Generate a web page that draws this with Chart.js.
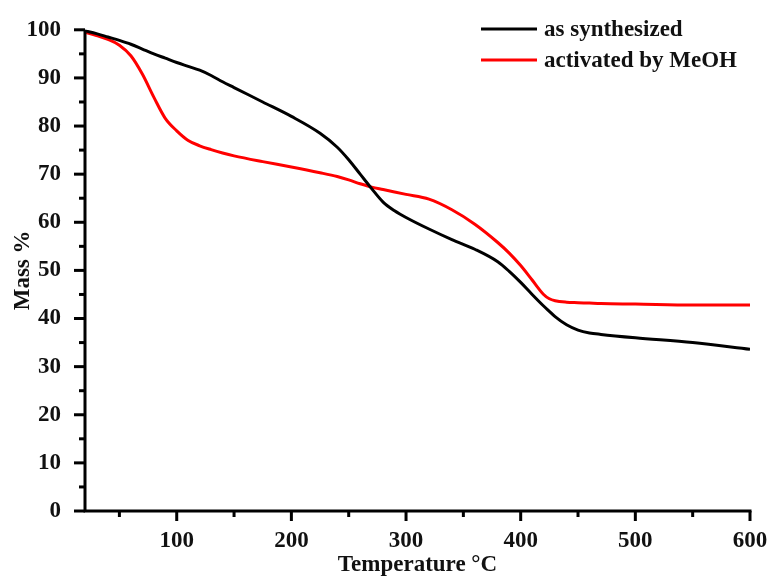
<!DOCTYPE html>
<html>
<head>
<meta charset="utf-8">
<script src="https://cdn.jsdelivr.net/npm/chart.js@4.4.1/dist/chart.umd.min.js"></script>
<style>
  html, body { margin: 0; padding: 0; background: #fff; }
  #wrap { width: 772px; height: 583px; }
</style>
</head>
<body>
<div id="wrap"><canvas id="tgaChart" width="772" height="583"></canvas></div>
<script>
// TGA curves: temperature (°C) vs remaining mass (%)
const temps = [20, 30, 40, 50, 60, 70, 80, 90, 100, 110, 120, 130, 140, 150, 175, 200, 225, 240, 250, 260,
    270, 280, 290, 300, 320, 340, 360, 380, 390, 400, 410, 420, 425, 430, 440, 450, 460, 470, 500, 550, 600];
const asSynthesized = [99.8, 99.2, 98.5, 97.8, 97.0, 96.0, 95.0, 94.1, 93.2, 92.4, 91.6, 90.5, 89.2, 88.0, 85.0, 82.0, 78.5, 75.6, 73.0, 70.0,
    67.0, 64.2, 62.4, 61.0, 58.6, 56.4, 54.4, 51.8, 49.8, 47.5, 45.0, 42.6, 41.5, 40.4, 38.7, 37.6, 37.0, 36.7, 36.0, 35.0, 33.6];
const activatedMeOH = [99.5, 98.8, 98.0, 96.8, 94.6, 90.8, 86.0, 81.6, 79.0, 77.0, 75.9, 75.1, 74.4, 73.8, 72.6, 71.5, 70.3, 69.5, 68.8, 68.0,
    67.3, 66.8, 66.3, 65.8, 64.8, 62.6, 59.6, 55.8, 53.6, 51.0, 48.0, 45.0, 44.1, 43.7, 43.4, 43.3, 43.2, 43.1, 43.0, 42.8, 42.8];

const seriesLabels = ['as synthesized', 'activated by MeOH'];
const seriesColors = ['#000000', '#ff0000'];

const xMajor = [100, 200, 300, 400, 500, 600];
const xMinor = [50, 150, 250, 350, 450, 550];
const yMajor = [0, 10, 20, 30, 40, 50, 60, 70, 80, 90, 100];
const yMinor = [5, 15, 25, 35, 45, 55, 65, 75, 85, 95];

const FONT = 'Liberation Serif, Times New Roman, serif';

// axis lines, major/minor tick marks and the legend in the top right corner
const framePlugin = {
    id: 'frame',
    afterDraw(chart) {
        const ctx = chart.ctx;
        const area = chart.chartArea;
        const xs = chart.scales.x;
        const ys = chart.scales.y;
        ctx.save();
        ctx.strokeStyle = '#000';
        ctx.lineWidth = 3;
        ctx.lineCap = 'butt';

        ctx.beginPath();
        ctx.moveTo(area.left, area.top);
        ctx.lineTo(area.left, area.bottom);
        ctx.lineTo(area.right + 1.5, area.bottom);
        ctx.stroke();

        const tick = (x1, y1, x2, y2) => {
            ctx.beginPath();
            ctx.moveTo(x1, y1);
            ctx.lineTo(x2, y2);
            ctx.stroke();
        };
        xMajor.forEach(v => { const px = xs.getPixelForValue(v); tick(px, area.bottom, px, area.bottom + 10); });
        xMinor.forEach(v => { const px = xs.getPixelForValue(v); tick(px, area.bottom, px, area.bottom + 6); });
        yMajor.forEach(v => { const py = ys.getPixelForValue(v); tick(area.left, py, area.left - 11, py); });
        yMinor.forEach(v => { const py = ys.getPixelForValue(v); tick(area.left, py, area.left - 6, py); });

        // legend
        ctx.font = 'bold 23px ' + FONT;
        ctx.textBaseline = 'middle';
        ctx.textAlign = 'left';
        chart.data.datasets.forEach((ds, i) => {
            const y = 29 + i * 31;
            ctx.strokeStyle = ds.borderColor;
            ctx.lineWidth = 3;
            tick(481, y, 537, y);
            ctx.fillStyle = '#111';
            ctx.fillText(ds.label, 544, y + 1);
        });
        ctx.restore();
    }
};

const ctx = document.getElementById('tgaChart').getContext('2d');
new Chart(ctx, {
    type: 'line',
    data: {
        datasets: [
            {
                label: seriesLabels[0],
                data: temps.map((t, i) => ({ x: t, y: asSynthesized[i] })),
                borderColor: seriesColors[0],
                borderWidth: 3,
                pointRadius: 0,
                cubicInterpolationMode: 'monotone',
                fill: false
            },
            {
                label: seriesLabels[1],
                data: temps.map((t, i) => ({ x: t, y: activatedMeOH[i] })),
                borderColor: seriesColors[1],
                borderWidth: 3,
                pointRadius: 0,
                cubicInterpolationMode: 'monotone',
                fill: false
            }
        ]
    },
    options: {
        responsive: false,
        animation: false,
        layout: { padding: { top: 24, right: 22, left: 0, bottom: 0 } },
        plugins: {
            legend: { display: false },
            tooltip: { enabled: false }
        },
        scales: {
            x: {
                type: 'linear',
                min: 20,
                max: 600,
                grid: { display: false },
                border: { display: false },
                afterBuildTicks(scale) { scale.ticks = xMajor.map(v => ({ value: v })); },
                afterFit(scale) {
                    scale.height = 72;
                    scale.paddingLeft = 0;
                    scale.paddingRight = 0;
                },
                ticks: {
                    color: '#111',
                    padding: 8,
                    maxRotation: 0,
                    font: { family: FONT, size: 23, weight: 'bold' }
                },
                title: {
                    display: true,
                    text: 'Temperature \u00B0C',
                    color: '#111',
                    padding: { top: 0, bottom: 4 },
                    font: { family: FONT, size: 23, weight: 'bold' }
                }
            },
            y: {
                min: 0,
                max: 100,
                grid: { display: false },
                border: { display: false },
                afterBuildTicks(scale) { scale.ticks = yMajor.map(v => ({ value: v })); },
                afterFit(scale) { scale.width = 85; },
                ticks: {
                    color: '#111',
                    padding: 16,
                    font: { family: FONT, size: 23, weight: 'bold' }
                },
                title: {
                    display: true,
                    text: 'Mass %',
                    color: '#111',
                    padding: { top: 9, bottom: 0 },
                    font: { family: FONT, size: 23, weight: 'bold' }
                }
            }
        }
    },
    plugins: [framePlugin]
});
</script>
</body>
</html>
